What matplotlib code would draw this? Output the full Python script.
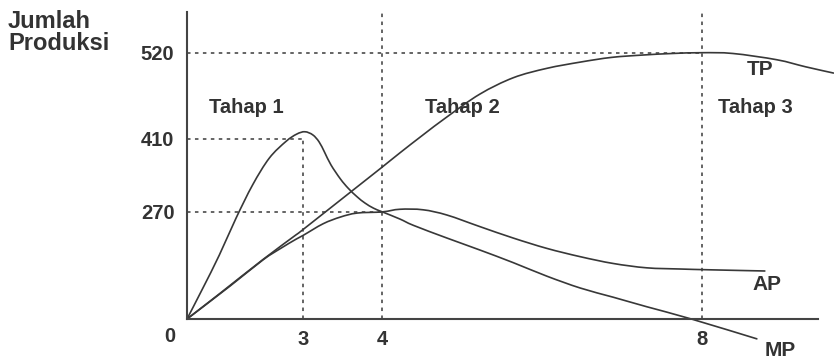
import numpy as np
import matplotlib
matplotlib.use("Agg")
import matplotlib.pyplot as plt
from matplotlib.path import Path
from matplotlib.patches import PathPatch

# Production stages: total, average and marginal product against labour input
tp_x = [0, 0.83, 1.96, 2.81, 3, 3.59, 4, 4.22, 4.51, 4.81, 5.22, 5.64, 6.06, 6.48, 6.87, 7.26, 7.63, 8, 8.39, 8.94, 9.3, 9.65]
tp_y = [0, 63, 150, 212, 226, 307, 356, 383, 415, 438, 467, 488, 500, 508, 514, 517, 519, 520, 519, 511, 502, 494]

ap_x = [0, 1.11, 1.96, 2.40, 2.81, 3, 3.25, 3.47, 3.68, 4, 4.22, 4.51, 4.81, 5.22, 5.64, 6.06, 6.48, 6.89, 7.31, 7.73, 8.10, 8.79]
ap_y = [0, 83, 149, 177, 201, 211, 240, 257, 267, 270, 275, 274, 262, 233, 204, 178, 157, 140, 129, 126, 124, 121]

mp_x = [0, 0.405, 0.833, 1.264, 1.695, 2.123, 2.553, 2.83, 3.02, 3.12, 3.20, 3.27, 3.35, 3.47, 3.57, 3.68,
        3.78, 3.89, 4.0, 4.22, 4.39, 4.81, 5.22, 5.64, 6.06, 6.48, 6.89, 7.31, 7.87, 8.69]
mp_y = [0, 77, 161, 254, 322, 373, 405, 416, 419, 415, 404, 384, 360, 333, 315, 299,
        287, 277, 270, 252, 236, 204, 174, 142, 108, 78, 55, 31, 0, -50]

x_ticks = [3, 4, 8]
y_ticks = [270, 410, 520]
stage_labels = ["Tahap 1", "Tahap 2", "Tahap 3"]

# Schematic axes: each segment between marked values gets its own length
x_knots = [-100, 0, 3, 4, 8, 100]
x_pos = [-3877, 0, 116.3, 195.3, 514.7, 514.7 + 92 * 79.85]
y_knots = [-2000, 0, 270, 410, 520, 3000]
y_pos = [-2000 * 107 / 270, 0, 107, 180, 266, 266 + 2480 * 86 / 110]


def fx(v):
    return np.interp(v, x_knots, x_pos)


def fx_inv(p):
    return np.interp(p, x_pos, x_knots)


def fy(v):
    return np.interp(v, y_knots, y_pos)


def fy_inv(p):
    return np.interp(p, y_pos, y_knots)


def smooth_path(ax, xs, ys):
    """Bezier path through the points (Catmull-Rom control points in screen space)."""
    pts = ax.transData.transform(np.column_stack([xs, ys]))
    n = len(pts)
    verts = [pts[0]]
    codes = [Path.MOVETO]
    for i in range(n - 1):
        p0 = pts[i - 1] if i > 0 else pts[i]
        p1, p2 = pts[i], pts[i + 1]
        p3 = pts[i + 2] if i + 2 < n else pts[i + 1]
        verts += [p1 + (p2 - p0) / 6, p2 - (p3 - p1) / 6, p2]
        codes += [Path.CURVE4] * 3
    verts = ax.transData.inverted().transform(np.array(verts))
    return Path(verts, codes)


ink = "#333333"
W, H = 834, 359
fig = plt.figure(figsize=(W / 100, H / 100), dpi=100)
ax = fig.add_axes([187 / W, 40 / H, (818 - 187) / W, (319 - 12) / H])
ax.set_xscale("function", functions=(fx, fx_inv))
ax.set_yscale("function", functions=(fy, fy_inv))
ax.set_xlim(0, 9.456)
ax.set_ylim(0, 572)

for s in ("top", "right"):
    ax.spines[s].set_visible(False)
for s in ("left", "bottom"):
    ax.spines[s].set_color("#444444")
    ax.spines[s].set_linewidth(1.5)

font = dict(family="Liberation Sans", weight="bold", color=ink)

ax.set_xticks(x_ticks)
ax.set_xticklabels([str(t) for t in x_ticks], fontsize=14.5, **font)
ax.set_yticks(y_ticks)
ax.set_yticklabels([str(t) for t in y_ticks], fontsize=14.5, **font)
ax.tick_params(axis="both", length=0)
ax.tick_params(axis="x", pad=8)
ax.tick_params(axis="y", pad=9)
ax.minorticks_off()
ax.annotate("0", xy=(0, 0), xytext=(-17, -17), textcoords="offset pixels",
            ha="center", va="center", fontsize=14.5, **font)

# Dotted guide lines
guide = dict(color="#3a3a3a", lw=1.1, dashes=(2.3, 2.9), clip_on=False)
ax.plot([0, 8], [520, 520], **guide)
ax.plot([0, 3], [410, 410], **guide)
ax.plot([0, 4], [270, 270], **guide)
ax.plot([3, 3], [0, 410], **guide)
ax.plot([4, 4], [0, 572], **guide)
ax.plot([8, 8], [0, 572], **guide)

for xs, ys in ((tp_x, tp_y), (ap_x, ap_y), (mp_x, mp_y)):
    ax.add_patch(PathPatch(smooth_path(ax, xs, ys), fill=False, edgecolor="#383838",
                           lw=1.2, clip_on=False, capstyle="round", joinstyle="round"))

for label, xc in zip(stage_labels, [1.52, 5.0, 8.67]):
    ax.text(xc, 443, label, ha="center", va="baseline", fontsize=14.5, **font)

ax.text(8.73, 492, "TP", ha="center", va="baseline", fontsize=15, clip_on=False, **font)
ax.text(8.82, 73, "AP", ha="center", va="baseline", fontsize=15, clip_on=False, **font)
ax.text(8.98, -93, "MP", ha="center", va="baseline", fontsize=15, clip_on=False, **font)

# Vertical axis title, two lines
fig.text(8 / W, 1 - 28.3 / H, "Jumlah", ha="left", va="baseline", fontsize=17, **font)
fig.text(8 / W, 1 - 50 / H, "Produksi", ha="left", va="baseline", fontsize=17, **font)

fig.savefig("out.png", dpi=100)
